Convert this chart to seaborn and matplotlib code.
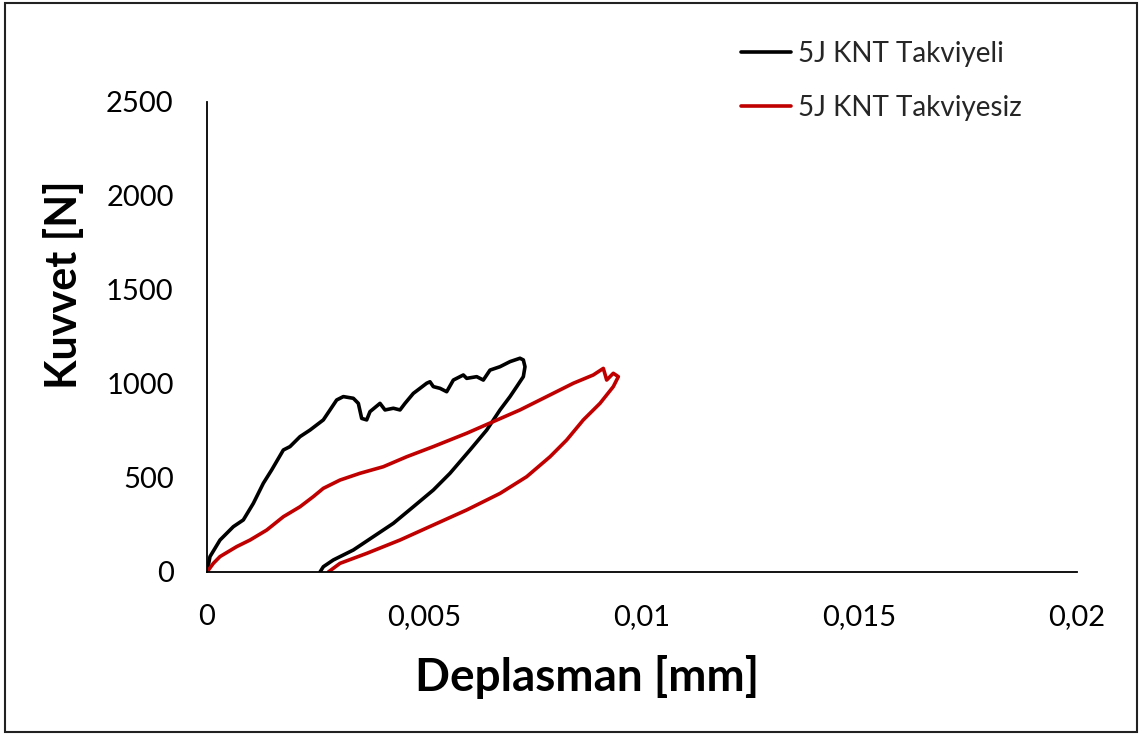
import matplotlib
matplotlib.use("Agg")
import matplotlib.pyplot as plt
from matplotlib.patches import Rectangle
import seaborn as sns
import pandas as pd

sns.set_theme(style="white")
plt.rcParams["font.family"] = ["Lato", "DejaVu Sans"]

# Force-displacement loops (displacement in mm, force in N)
takviyeli_x = [0.0, 0.000069, 0.000299, 0.000605, 0.000835, 0.001065, 0.001295, 0.001487,
               0.001755, 0.001908, 0.002138, 0.002368, 0.002674, 0.002828, 0.002981, 0.003134,
               0.003364, 0.003479, 0.003556, 0.003671, 0.003747, 0.003977, 0.004092, 0.004284,
               0.004437, 0.004552, 0.004743, 0.004897, 0.00505, 0.005126, 0.005203, 0.005356,
               0.00551, 0.005663, 0.005893, 0.00597, 0.0062, 0.006352, 0.006506, 0.006736,
               0.006966, 0.007195, 0.007272, 0.00731,
               0.007272, 0.00712, 0.006966, 0.006736, 0.00643, 0.006046, 0.005586, 0.005203,
               0.004743, 0.004284, 0.003824, 0.003364, 0.002904, 0.002674, 0.002598]
takviyeli_y = [0, 82, 170, 241, 277, 365, 472, 543,
               649, 667, 720, 755, 809, 862, 915, 933,
               924, 897, 817, 809, 853, 897, 862, 871,
               862, 897, 950, 977, 1004, 1012, 986, 977,
               959, 1021, 1048, 1030, 1039, 1021, 1074, 1092,
               1119, 1137, 1128, 1092,
               1039, 986, 933, 862, 755, 649, 525, 436,
               347, 259, 188, 117, 64, 28, 0]

takviyesiz_x = [0.0, 0.000146, 0.000299, 0.000682, 0.000989, 0.001372, 0.001755, 0.002138,
                0.002444, 0.002674, 0.003057, 0.003517, 0.004053, 0.00459, 0.005203, 0.00597,
                0.006582, 0.007195, 0.007809, 0.008422, 0.00888, 0.009111, 0.009188, 0.00934,
                0.009456,
                0.00934, 0.009034, 0.008651, 0.008268, 0.007885, 0.007349, 0.006736, 0.00597,
                0.005203, 0.004437, 0.003671, 0.003057, 0.002789]
takviyesiz_y = [0, 46, 82, 135, 170, 223, 294, 347,
                401, 445, 489, 525, 560, 613, 667, 738,
                800, 862, 933, 1004, 1048, 1083, 1021, 1057,
                1039,
                986, 897, 809, 702, 613, 507, 418, 330,
                250, 170, 99, 46, 0]

series_names = ["5J KNT Takviyeli", "5J KNT Takviyesiz"]
series_colors = ["#000000", "#C00000"]

x_ticks = [0, 0.005, 0.01, 0.015, 0.02]
x_tick_labels = ["0", "0,005", "0,01", "0,015", "0,02"]
y_ticks = [0, 500, 1000, 1500, 2000, 2500]

frames = []
for name, xs, ys in [(series_names[0], takviyeli_x, takviyeli_y),
                     (series_names[1], takviyesiz_x, takviyesiz_y)]:
    frames.append(pd.DataFrame({"Deplasman": xs, "Kuvvet": ys, "Seri": name}))
df = pd.concat(frames, ignore_index=True)

fig = plt.figure(figsize=(11.4, 7.35), dpi=100)
ax = fig.add_axes([207 / 1140, 1 - 572 / 735, 870 / 1140, 470 / 735])

# each loop is drawn in recorded order (loading then unloading)
for name, col in zip(series_names, series_colors):
    sub = df[df["Seri"] == name]
    sns.lineplot(data=sub, x="Deplasman", y="Kuvvet", sort=False, estimator=None,
                 color=col, linewidth=2.6, ax=ax, label=name)

ax.set_xlim(0, 0.02)
ax.set_ylim(0, 2500)
ax.set_xticks(x_ticks)
ax.set_xticklabels(x_tick_labels)
ax.set_yticks(y_ticks)
ax.set_yticklabels([str(v) for v in y_ticks])
ax.tick_params(axis="both", labelsize=21, length=0, colors="#000000")
ax.tick_params(axis="x", pad=23)
ax.tick_params(axis="y", pad=24)

for s in ["top", "right"]:
    ax.spines[s].set_visible(False)
for s in ["left", "bottom"]:
    ax.spines[s].set_color("#000000")
    ax.spines[s].set_linewidth(1.3)

ax.set_xlabel("Deplasman [mm]", fontsize=33, fontweight="bold", color="#000000")
ax.set_ylabel("Kuvvet [N]", fontsize=31, fontweight="bold", color="#000000")
ax.xaxis.set_label_coords((587 - 207) / 870, (572 - 677) / 470)
ax.xaxis.label.set_va("center")
ax.yaxis.set_label_coords((84 - 207) / 870, (572 - 285) / 470)

ax.legend(loc="upper left", bbox_to_anchor=(730 / 1140, 1 - 30 / 735),
          bbox_transform=fig.transFigure, frameon=False, fontsize=20,
          handlelength=1.8, handletextpad=0.25, labelspacing=1.0, borderaxespad=0)

fig.patches.append(Rectangle((5 / 1140, 3 / 735), 1132 / 1140, 729 / 735,
                             transform=fig.transFigure, fill=False,
                             edgecolor="#222222", linewidth=1.5))

fig.savefig("out.png", dpi=100)
